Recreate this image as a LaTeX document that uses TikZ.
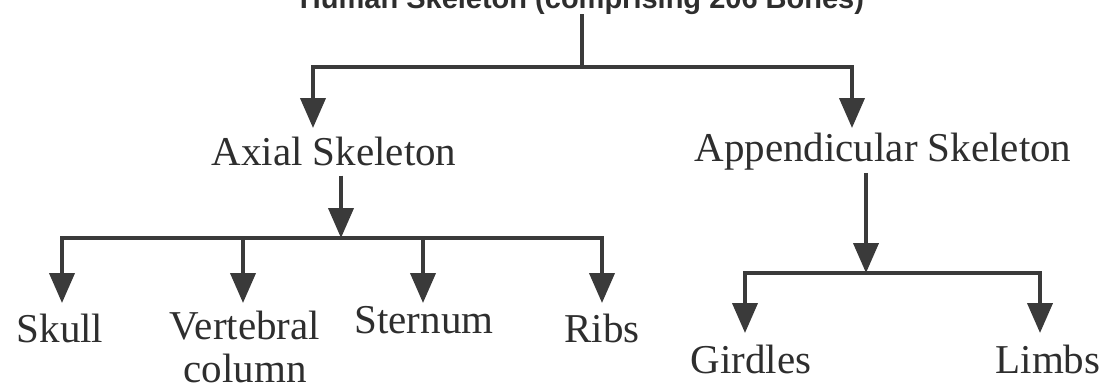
\documentclass[tikz,border=0pt]{standalone}
\usepackage{fontspec}
\setmainfont{Liberation Serif}
\newfontfamily\titlefont{Liberation Sans}
\usetikzlibrary{arrows.meta}
\definecolor{linec}{HTML}{3A3A3A}
\definecolor{textc}{HTML}{2E2E2E}
\begin{document}
\begin{tikzpicture}[x=1pt,y=-1pt,
  ln/.style={line width=4pt, draw=linec},
  arr/.style={ln, -{Triangle[length=30pt,width=25pt]}},
  lbl/.style={font=\fontsize{41}{43}\selectfont, text=textc, inner sep=0pt, anchor=base, align=center},
  ttl/.style={font=\titlefont\bfseries\fontsize{29}{34}\selectfont, text=textc, inner sep=0pt, anchor=base}]
\useasboundingbox (0,0) rectangle (1105,391);
% nodes
\node[ttl] (title) at (582,8) {Human Skeleton (comprising 206 Bones)};
\node[lbl] (axial) at (334,165) {Axial Skeleton};
\node[lbl] (append) at (883,161) {Appendicular Skeleton};
\node[lbl] (skull) at (60,342) {Skull};
\node[lbl] (vert) at (245,382) {Vertebral\\column};
\node[lbl] (stern) at (424,333) {Sternum};
\node[lbl] (ribs) at (602,342) {Ribs};
\node[lbl] (gird) at (751,373) {Girdles};
\node[lbl] (limbs) at (1048,373) {Limbs};
% junctions and arrow tips
\coordinate (j0) at (582,67);
\coordinate (tAx) at (313,128);
\coordinate (tAp) at (852,128);
\coordinate (j1) at (341,238);
\coordinate (tSk) at (62,303);
\coordinate (tVe) at (243,303);
\coordinate (tSt) at (423,303);
\coordinate (tRi) at (602,303);
\coordinate (j2) at (866,273);
\coordinate (tGi) at (745,333);
\coordinate (tLi) at (1040,333);
% connectors
\draw[ln] (title.south) -- (j0);
\draw[arr] (j0) -| (tAx);
\draw[arr] (j0) -| (tAp);
\draw[arr, shorten <=10pt] (axial.south -| j1) -- (j1);
\draw[arr, shorten <=3pt] (append.south -| j2) -- (j2);
\draw[arr] (j1) -| (tSk);
\draw[arr] (j1) -| (tRi);
\draw[arr] (j1 -| tVe) -- (tVe);
\draw[arr] (j1 -| tSt) -- (tSt);
\draw[arr] (j2) -| (tGi);
\draw[arr] (j2) -| (tLi);
\end{tikzpicture}
\end{document}
